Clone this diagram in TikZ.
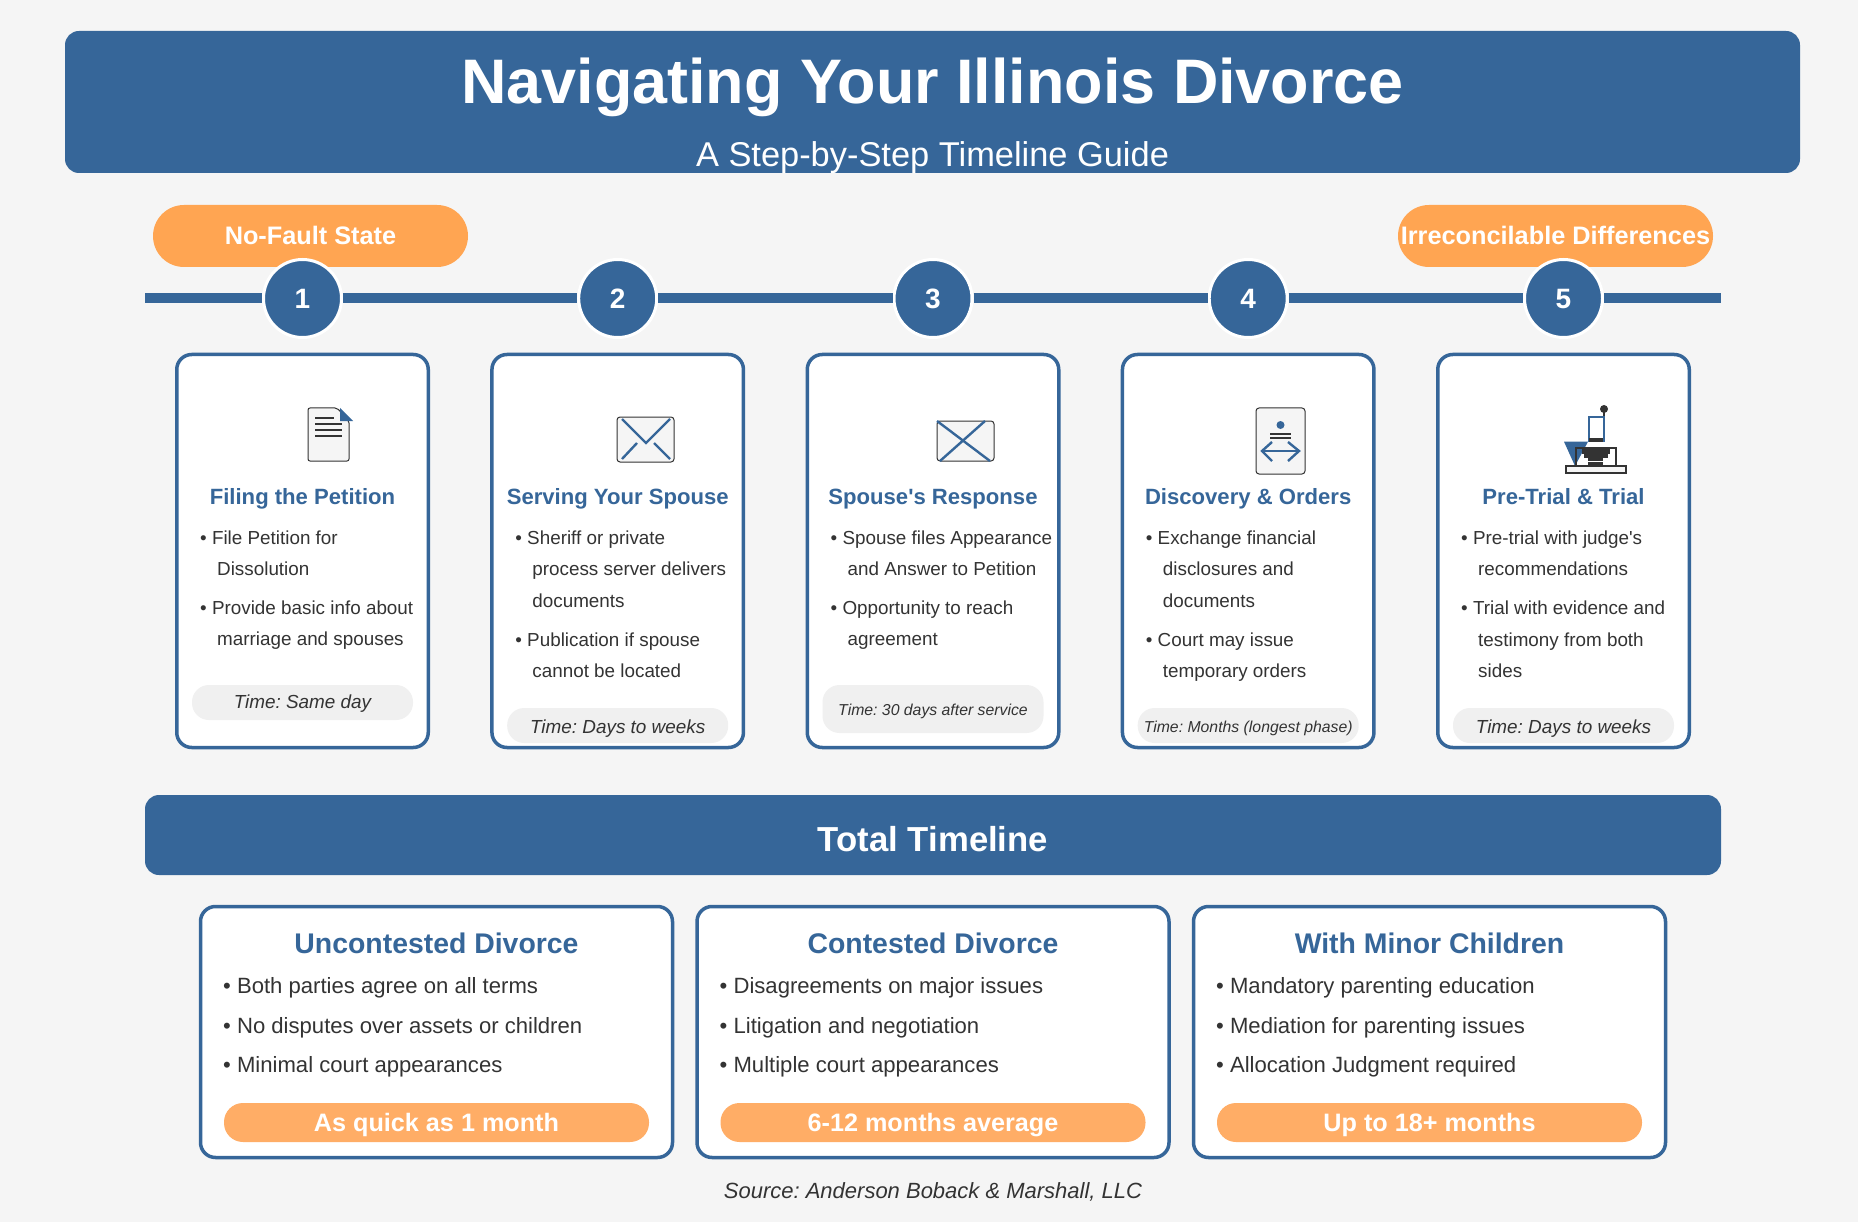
\documentclass[tikz,border=0pt]{standalone}
\usepackage{fontspec}
\setmainfont{Liberation Sans}
\frenchspacing
\usetikzlibrary{positioning}
\definecolor{pagegray}{HTML}{F5F5F5}
\definecolor{lawblue}{HTML}{366699}
\definecolor{tagorange}{HTML}{FFA552}
\definecolor{paleorange}{HTML}{FFAD66}
\definecolor{timegray}{HTML}{F0F0F0}
\definecolor{inkdark}{HTML}{333333}
\tikzset{
  banner/.style={fill=lawblue,rounded corners=14pt,inner sep=0pt},
  tagpill/.style={fill=tagorange,rounded corners=31pt,minimum width=315pt,minimum height=62pt,inner sep=0pt,
    text=white,font=\fontsize{25.3}{30}\bfseries,text height=17pt,text depth=0pt},
  stepdot/.style={circle,fill=lawblue,draw=white,line width=3pt,minimum size=78pt,inner sep=0pt,
    text=white,font=\fontsize{28}{30}\bfseries,text height=20pt,text depth=0pt},
  timeline/.style={draw=lawblue,line width=10pt},
  card/.style={fill=white,draw=lawblue,line width=3.5pt,rounded corners=15pt,minimum width=251.5pt,minimum height=393pt,inner sep=0pt},
  widecard/.style={fill=white,draw=lawblue,line width=3.5pt,rounded corners=15pt,minimum width=472pt,minimum height=251pt,inner sep=0pt},
  cardhead/.style={anchor=base,inner sep=0pt,text=lawblue,font=\fontsize{22.1}{26}\bfseries},
  widehead/.style={anchor=base,inner sep=0pt,text=lawblue,font=\fontsize{28.4}{32}\bfseries},
  item/.style={anchor=base west,inner sep=0pt,align=left,text=inkdark,font=\fontsize{18.85}{31.6}\selectfont},
  wideitem/.style={anchor=base west,inner sep=0pt,text=inkdark,font=\fontsize{22.1}{26}\selectfont},
  timepill/.style={fill=timegray,rounded corners=17pt,minimum width=221pt,minimum height=35pt,inner sep=0pt,
    text=inkdark,font=\fontsize{18.9}{22}\itshape,text height=12pt,text depth=1pt},
  lowtime/.style={text height=16pt},
  smalltime/.style={font=\fontsize{15.8}{20}\itshape,text height=14pt},
  spanpill/.style={fill=paleorange,rounded corners=19pt,minimum width=425pt,minimum height=39pt,inner sep=0pt,
    text=white,font=\fontsize{25.2}{28}\bfseries,text height=17pt,text depth=0pt},
  iconbox/.style={fill=pagegray,draw=inkdark,line width=1pt,rounded corners=3pt},
  iconink/.style={draw=inkdark,line width=2pt},
  iconblue/.style={draw=lawblue,line width=2.4pt}
}
\begin{document}
\begin{tikzpicture}[x=1pt,y=-1pt]
  \useasboundingbox (0,0) rectangle (1858,1222);
  \fill [pagegray] (0,0) rectangle (1858,1222);
  % header
  \node [banner,minimum width=1735pt,minimum height=142pt] (header) at (932.5,102) {};
  \node [anchor=base,inner sep=0pt,text=white,font=\fontsize{62.9}{70}\bfseries] (title) at (932.5,104) {Navigating Your Illinois Divorce};
  \node [anchor=base,inner sep=0pt,text=white,font=\fontsize{34.4}{40}\selectfont] (subtitle) at (932.5,167) {A Step-by-Step Timeline Guide};
  % tags and timeline
  \node [tagpill] (tagleft) at (310.5,236) {No-Fault State};
  \node [tagpill] (tagright) at (1555.5,236) {Irreconcilable Differences};
  \coordinate (tlstart) at (145,298.5);
  \coordinate (tlend) at (1721,298.5);
  \node [stepdot] (step1) at (302.5,298.5) {1};
  \node [stepdot] (step2) at (617.7,298.5) {2};
  \node [stepdot] (step3) at (933,298.5) {3};
  \node [stepdot] (step4) at (1248.2,298.5) {4};
  \node [stepdot] (step5) at (1563.5,298.5) {5};
  \draw [timeline] (tlstart) -- (step1);
  \draw [timeline] (step1) -- (step2);
  \draw [timeline] (step2) -- (step3);
  \draw [timeline] (step3) -- (step4);
  \draw [timeline] (step4) -- (step5);
  \draw [timeline] (step5) -- (tlend);
  % step 1
  \node [card] (card1) at (302.5,551) {};
  \filldraw [iconbox,rounded corners=2pt] (308,408) -- (337,408) -- (349,421) -- (349,461) -- (308,461) -- cycle;
  \fill [lawblue] (340,408) -- (353,421) -- (340,421) -- cycle;
  \draw [iconink] (315,418) -- (334,418);
  \draw [iconink] (315,424) -- (342,424);
  \draw [iconink] (315,430) -- (342,430);
  \draw [iconink] (315,436) -- (342,436);
  \node [cardhead] (head1) at (302.5,504) {Filing the Petition};
  \node [item] (item1a) at (200,575.6) {• File Petition for\\\hspace*{17pt}Dissolution};
  \node [item] (item1b) at (200,645.6) {• Provide basic info about\\\hspace*{17pt}marriage and spouses};
  \node [timepill] (time1) at (302.5,702.5) {Time: Same day};
  % step 2
  \node [card] (card2) at (617.7,551) {};
  \filldraw [iconbox] (617,417) rectangle (674,462);
  \draw [iconblue] (622,419) -- (646,443) -- (670,419);
  \draw [iconblue] (622,459) -- (637,443);
  \draw [iconblue] (670,459) -- (654,443);
  \node [cardhead] (head2) at (617.7,504) {Serving Your Spouse};
  \node [item] (item2a) at (515.2,607.2) {• Sheriff or private\\\hspace*{17pt}process server delivers\\\hspace*{17pt}documents};
  \node [item] (item2b) at (515.2,677.6) {• Publication if spouse\\\hspace*{17pt}cannot be located};
  \node [timepill,lowtime] (time2) at (617.7,725.5) {Time: Days to weeks};
  % step 3
  \node [card] (card3) at (933,551) {};
  \filldraw [iconbox] (937,421) rectangle (994,461);
  \draw [iconblue] (937,421) -- (990,461);
  \draw [iconblue] (985,421) -- (940,461);
  \node [cardhead] (head3) at (933,504) {Spouse\textquotesingle s Response};
  \node [item] (item3a) at (830.5,575.6) {• Spouse files Appearance\\\hspace*{17pt}and Answer to Petition};
  \node [item] (item3b) at (830.5,645.6) {• Opportunity to reach\\\hspace*{17pt}agreement};
  \node [timepill,smalltime,minimum height=48pt] (time3) at (933,709) {Time: 30 days after service};
  % step 4
  \node [card] (card4) at (1248.2,551) {};
  \filldraw [iconbox] (1256,408) rectangle (1305,474);
  \fill [lawblue] (1280.5,425) circle (4);
  \draw [iconink] (1270,433.5) -- (1291,433.5);
  \draw [iconink] (1270,438) -- (1291,438);
  \draw [iconblue] (1262,451) -- (1299,451);
  \draw [iconblue] (1272,442) -- (1262,451) -- (1272,461);
  \draw [iconblue] (1288,442) -- (1299,451) -- (1288,461);
  \node [cardhead] (head4) at (1248.2,504) {Discovery \& Orders};
  \node [item] (item4a) at (1145.7,607.2) {• Exchange financial\\\hspace*{17pt}disclosures and\\\hspace*{17pt}documents};
  \node [item] (item4b) at (1145.7,677.6) {• Court may issue\\\hspace*{17pt}temporary orders};
  \node [timepill,smalltime] (time4) at (1248.2,725.5) {Time: Months (longest phase)};
  % step 5
  \node [card] (card5) at (1563.5,551) {};
  \draw [draw=inkdark,line width=1.5pt] (1604,409) -- (1604,424);
  \fill [inkdark] (1604,409) circle (4);
  \filldraw [fill=white,draw=lawblue,line width=2.4pt] (1589,417) rectangle (1604,441);
  \fill [inkdark] (1589,437.7) rectangle (1603,441.5);
  \fill [lawblue] (1564,441.7) -- (1588,441.7) -- (1575,466) -- cycle;
  \draw [draw=inkdark,line width=1.5pt] (1576,466) -- (1576,448) -- (1616,448) -- (1616,466);
  \fill [inkdark] (1582,448) rectangle (1610,453.5);
  \fill [inkdark] (1584,454.2) rectangle (1608,457.8);
  \fill [inkdark] (1588,458.3) rectangle (1603,461.3);
  \fill [inkdark] (1588,461.8) rectangle (1603,466);
  \filldraw [fill=pagegray,draw=inkdark,line width=1.5pt] (1566,466) rectangle (1626,473);
  \node [cardhead] (head5) at (1563.5,504) {Pre-Trial \& Trial};
  \node [item] (item5a) at (1461,575.6) {• Pre-trial with judge\textquotesingle s\\\hspace*{17pt}recommendations};
  \node [item] (item5b) at (1461,677.6) {• Trial with evidence and\\\hspace*{17pt}testimony from both\\\hspace*{17pt}sides};
  \node [timepill,lowtime] (time5) at (1563.5,725.5) {Time: Days to weeks};
  % total timeline
  \node [banner,minimum width=1576pt,minimum height=80pt,text=white,font=\fontsize{34.7}{40}\bfseries,text height=32pt,text depth=0pt] (total) at (933,835) {Total Timeline};
  % uncontested
  \node [widecard] (wide1) at (436.5,1032) {};
  \node [widehead] (widehead1) at (436.5,953) {Uncontested Divorce};
  \node [wideitem] (wide1a) at (223,993) {• Both parties agree on all terms};
  \node [wideitem] (wide1b) at (223,1033) {• No disputes over assets or children};
  \node [wideitem] (wide1c) at (223,1072) {• Minimal court appearances};
  \node [spanpill] (span1) at (436.5,1122.5) {As quick as 1 month};
  % contested
  \node [widecard] (wide2) at (933,1032) {};
  \node [widehead] (widehead2) at (933,953) {Contested Divorce};
  \node [wideitem] (wide2a) at (719.5,993) {• Disagreements on major issues};
  \node [wideitem] (wide2b) at (719.5,1033) {• Litigation and negotiation};
  \node [wideitem] (wide2c) at (719.5,1072) {• Multiple court appearances};
  \node [spanpill] (span2) at (933,1122.5) {6-12 months average};
  % minor children
  \node [widecard] (wide3) at (1429.5,1032) {};
  \node [widehead] (widehead3) at (1429.5,953) {With Minor Children};
  \node [wideitem] (wide3a) at (1216,993) {• Mandatory parenting education};
  \node [wideitem] (wide3b) at (1216,1033) {• Mediation for parenting issues};
  \node [wideitem] (wide3c) at (1216,1072) {• Allocation Judgment required};
  \node [spanpill] (span3) at (1429.5,1122.5) {Up to 18+ months};
  % source
  \node [anchor=base,inner sep=0pt,text=inkdark,font=\fontsize{22}{26}\itshape] (source) at (933,1198) {Source: Anderson Boback \& Marshall, LLC};
\end{tikzpicture}
\end{document}
